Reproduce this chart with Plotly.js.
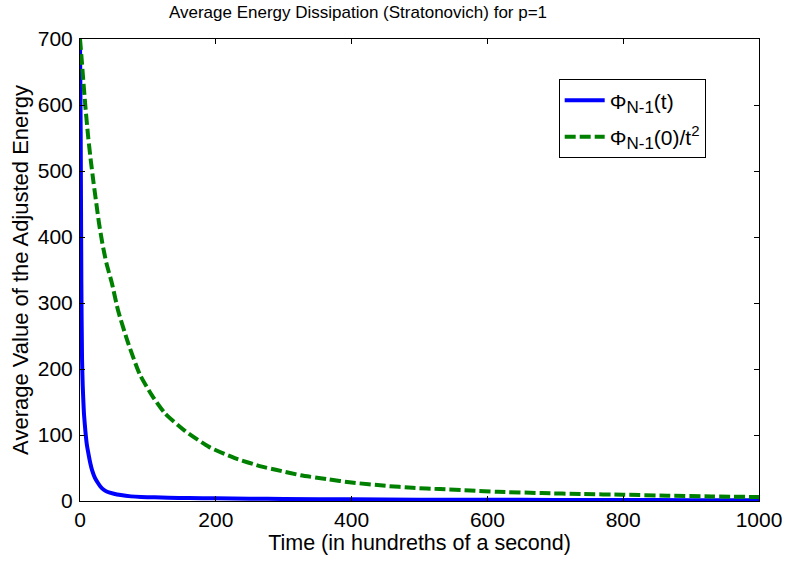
<!DOCTYPE html>
<html>
<head>
<meta charset="utf-8">
<script src="https://cdn.plot.ly/plotly-3.0.1.min.js"></script>
<style>html,body{margin:0;padding:0;background:#fff;}#chart{width:786px;height:561px;}</style>
</head>
<body>
<div id="chart"></div>
<script>
// Φ_{N-1}(t) — solid blue
const tBlue = [0, 1, 2, 3, 4, 5, 6, 8, 10, 12, 15, 18, 22, 26, 30, 35, 40, 50, 60, 75, 90, 110, 130, 160, 200, 250, 300, 400, 500, 600, 700, 800, 900, 1000];
const vBlue = [700, 560, 330, 215, 175, 150, 130, 105, 86, 74, 58, 46, 35, 28, 22, 17, 14, 11, 9, 7, 6, 5.5, 5, 4.5, 4, 3.5, 3, 2.5, 2, 2, 1.5, 1.5, 1.2, 1];

// Φ_{N-1}(0)/t^2 — dashed green
const tGreen = [0, 2, 5, 8, 12, 16, 20, 24, 28, 33, 39, 47, 56, 71, 88, 106, 125, 155, 190, 228, 268, 290, 325, 365, 400, 450, 490, 530, 575, 615, 680, 740, 800, 865, 930, 1000];
const vGreen = [700, 675, 635, 597, 552, 515, 482, 451, 421, 390, 360, 330, 289, 239, 192, 160, 133, 106, 82, 65, 52, 47, 39, 33, 28, 23, 20, 18, 16, 14, 12, 10.5, 9.5, 8, 7, 6];

const xTicks = [0, 200, 400, 600, 800, 1000];
const yTicks = [0, 100, 200, 300, 400, 500, 600, 700];

const titleText = 'Average Energy Dissipation (Stratonovich) for p=1';
const xTitle = 'Time (in hundreths of a second)';
const yTitle = 'Average Value of the Adjusted Energy';
const name1 = 'Φ<sub><span style="font-size:17px">N-1</span></sub>(t)';
const name2 = 'Φ<sub><span style="font-size:17px">N-1</span></sub>(0)/t<sup><span style="font-size:15px">2</span></sup>';

const FONT = 'Liberation Sans, Arial, Helvetica, sans-serif';

const traces = [
  {x: tBlue, y: vBlue, name: name1, legendgroup: 'a', type: 'scatter', mode: 'lines',
   line: {color: '#0000ff', width: 4, shape: 'spline', smoothing: 0.6}},
  {x: tGreen, y: vGreen, name: name2, legendgroup: 'b', type: 'scatter', mode: 'lines',
   line: {color: '#008000', width: 4, dash: '11px,4px', shape: 'spline', smoothing: 0.6}}
];

const axisCommon = {
  showgrid: false, zeroline: false, showline: true, linecolor: '#000', linewidth: 1,
  mirror: 'ticks', ticks: 'inside', ticklen: 5, tickcolor: '#000', tickwidth: 1,
  tickfont: {family: FONT, size: 21, color: '#000'}
};

const layout = {
  width: 786, height: 561,
  margin: {l: 80, r: 27, t: 39, b: 60},
  paper_bgcolor: '#fff', plot_bgcolor: '#fff',
  font: {family: FONT, color: '#000'},
  title: {text: titleText, font: {family: FONT, size: 17, color: '#000'},
          xref: 'container', x: 358/786, xanchor: 'center', yref: 'container', y: 1 - 12/561, yanchor: 'middle'},
  xaxis: Object.assign({}, axisCommon, {
    range: [0, 1000], tickvals: xTicks, ticktext: xTicks.map(String),
    title: {text: xTitle, font: {family: FONT, size: 21.5, color: '#000'}, standoff: 1},
    ticklabelstandoff: 0
  }),
  yaxis: Object.assign({}, axisCommon, {
    range: [0, 700], tickvals: yTicks, ticktext: yTicks.map(String),
    title: {text: yTitle, font: {family: FONT, size: 22, color: '#000'}, standoff: 3},
    ticklabelstandoff: 2
  }),
  showlegend: true,
  legend: {x: 0.705, y: 0.913, xanchor: 'left', yanchor: 'top',
           bgcolor: '#fff', bordercolor: '#000', borderwidth: 1, itemwidth: 40,
           font: {family: FONT, size: 21, color: '#000'}, tracegroupgap: 6}
};

Plotly.newPlot('chart', traces, layout, {displayModeBar: false, staticPlot: true});
</script>
</body>
</html>
